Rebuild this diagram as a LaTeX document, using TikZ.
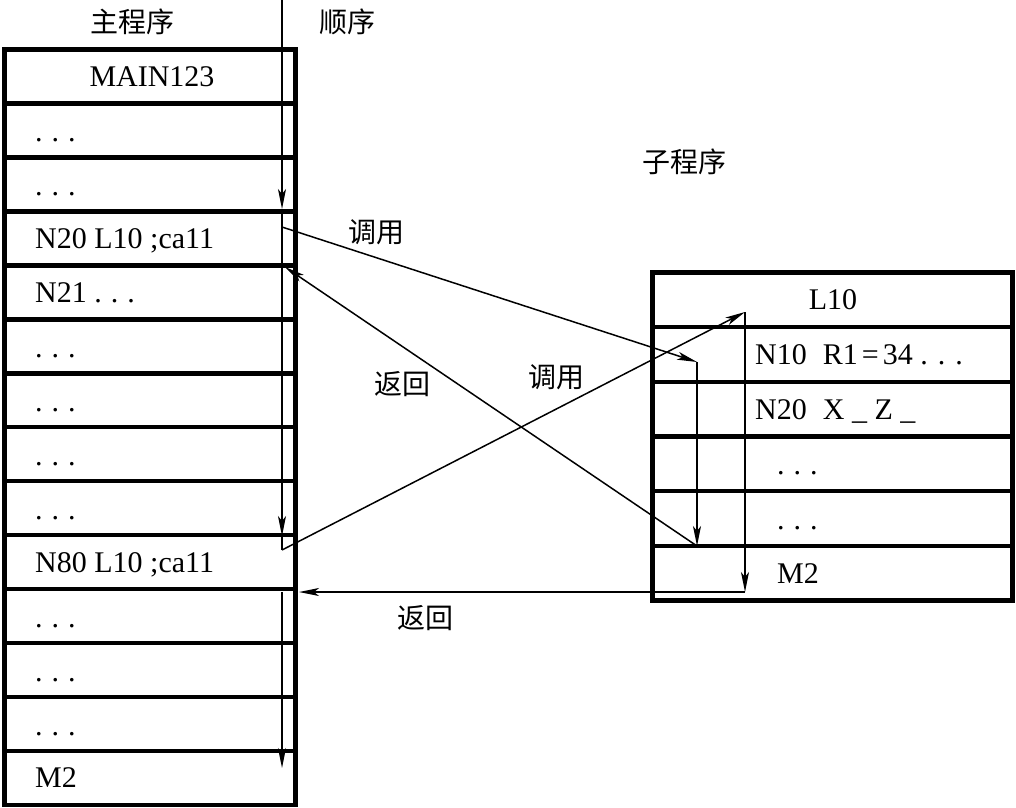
\documentclass[tikz,border=0pt]{standalone}
\usepackage{fontspec}
\setmainfont{Liberation Serif}
\newfontfamily\cjk{Noto Sans CJK SC}
\usetikzlibrary{arrows.meta,calc}
\begin{document}
\begin{tikzpicture}[x=1pt,y=-1pt,
  mrow/.style={draw,line width=4.5pt,minimum width=291pt,minimum height=53.96pt,inner sep=0pt,outer sep=0pt},
  srow/.style={draw,line width=4.5pt,minimum width=360pt,minimum height=54.67pt,inner sep=0pt,outer sep=0pt},
  txt/.style={font=\fontsize{30}{36}\selectfont,inner sep=0pt,anchor=base west},
  cn/.style={font=\cjk\fontsize{28}{30}\selectfont,inner sep=0pt},
  flow/.style={line width=1.5pt},
  arr/.style={flow,-{Stealth[length=20pt,width=8pt,inset=5pt]}}]
\useasboundingbox (0,0) rectangle (1016,807);

% main program rows
\foreach \i in {1,...,14}
  \node[mrow] (m\i) at (150,{49.5+(\i-0.5)*53.96}) {};
% sub program rows
\foreach \j in {1,...,6}
  \node[srow] (s\j) at (832.5,{272.5+(\j-0.5)*54.67}) {};

% main texts
\node[txt,anchor=base] (t1) at ([xshift=2pt,yshift=-10pt]m1.center) {MAIN123};
\foreach \k in {2,3,6,7,8,9,11,12,13}
  \node[txt] (t\k) at ([xshift=30.5pt,yshift=-11pt]m\k.west) {.\hspace{9pt}.\hspace{9pt}.};
\node[txt] (t4) at ([xshift=30.5pt,yshift=-10pt]m4.west) {N20 L10 ;ca11};
\node[txt] (t5) at ([xshift=30.5pt,yshift=-10pt]m5.west) {N21 .\hspace{9pt}.\hspace{9pt}.};
\node[txt] (t10) at ([xshift=30.5pt,yshift=-10pt]m10.west) {N80 L10 ;ca11};
\node[txt] (t14) at ([xshift=30.5pt,yshift=-10pt]m14.west) {M2};

% sub texts
\node[txt,anchor=base] (u1) at ([xshift=0.5pt,yshift=-10pt]s1.center) {L10};
\node[txt] (u2) at ([xshift=102.5pt,yshift=-10pt]s2.west) {N10\hspace{16pt}R1\hspace{4pt}=\hspace{4pt}34 . . .};
\node[txt] (u3) at ([xshift=102.5pt,yshift=-10pt]s3.west) {N20\hspace{16pt}X \_ Z \_};
\node[txt] (u4) at ([xshift=124.5pt,yshift=-11pt]s4.west) {.\hspace{9pt}.\hspace{9pt}.};
\node[txt] (u5) at ([xshift=124.5pt,yshift=-11pt]s5.west) {.\hspace{9pt}.\hspace{9pt}.};
\node[txt] (u6) at ([xshift=124.5pt,yshift=-10pt]s6.west) {M2};

% labels
\node[cn] (lmain) at (132,22) {主程序};
\node[cn] (lseq) at (347,22) {顺序};
\node[cn] (lsub) at (684,162) {子程序};
\node[cn] (call1) at (376,232) {调用};
\node[cn] (ret1) at (402,384) {返回};
\node[cn] (call2) at (556,377) {调用};
\node[cn] (ret2) at (425,618) {返回};

% connector points
\coordinate (seqtop) at (282,0);
\coordinate (a1) at (282,209);
\coordinate (a2) at (282,536);
\coordinate (c2s) at (282,550);
\coordinate (c2e) at (745,312);
\coordinate (s2b) at (745,592);
\coordinate (r2e) at (299,592);
\coordinate (seq3s) at (282,592);
\coordinate (seq3e) at (282,768);
\coordinate (c1s) at (282,227);
\coordinate (c1e) at (697,362);
\coordinate (s1b) at (697,546);
\coordinate (r1e) at (285,267);

\draw[arr] (seqtop) -- (a1);
\draw[arr] (a1) -- (a2);
\draw[flow] (a2) -- (c2s);
\draw[arr] (c2s) -- (c2e);
\draw[arr] (c2e) -- (s2b);
\draw[arr] (s2b) -- (r2e);
\draw[arr] (seq3s) -- (seq3e);
\draw[arr] (c1s) -- (c1e);
\draw[arr] (c1e) -- (s1b);
\draw[arr] (s1b) -- (r1e);
\end{tikzpicture}
\end{document}
